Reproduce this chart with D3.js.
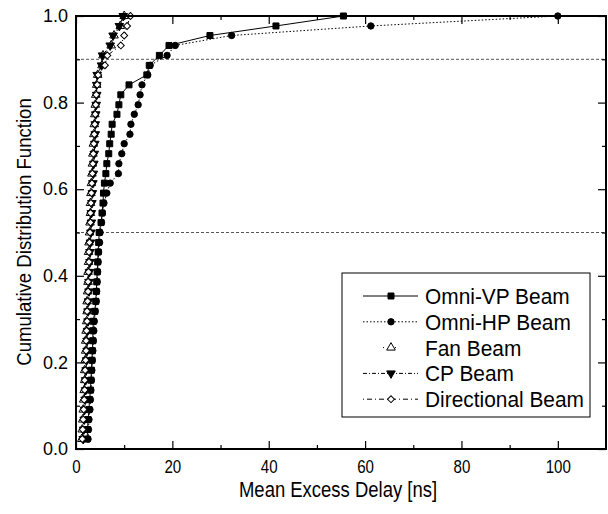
<!DOCTYPE html>
<html>
<head>
<meta charset="utf-8">
<script src="https://cdn.jsdelivr.net/npm/d3@7"></script>
<style>
body { margin: 0; background: #fff; }
svg text { font-family: "Liberation Sans", Arial, sans-serif; fill: #000; }
</style>
</head>
<body>
<svg id="chart" width="608" height="514"></svg>
<script>
// cumulative levels shared by every beam
var cdfLevels = [0.023, 0.045, 0.068, 0.091, 0.114, 0.136, 0.159, 0.182, 0.205, 0.227,
                 0.250, 0.273, 0.295, 0.318, 0.341, 0.364, 0.386, 0.409, 0.432, 0.455,
                 0.477, 0.500, 0.523, 0.545, 0.568, 0.591, 0.614, 0.636, 0.659, 0.682,
                 0.705, 0.727, 0.750, 0.773, 0.795, 0.818, 0.841, 0.864, 0.886, 0.909,
                 0.932, 0.955, 0.977, 1.000];

// mean excess delay [ns] per beam
var omniVP = [2.3, 2.4, 2.5, 2.7, 2.8, 3.0, 3.1, 3.2, 3.3, 3.4,
              3.5, 3.5, 3.6, 3.9, 4.1, 4.2, 4.3, 4.4, 4.5, 4.6,
              4.7, 4.8, 5.2, 5.4, 5.6, 5.7, 5.9, 6.2, 6.4, 6.8,
              7.0, 7.3, 7.5, 8.5, 8.9, 9.3, 11.0, 14.7, 15.2, 17.3,
              19.3, 27.8, 41.5, 55.5];
var omniHP = [2.5, 2.6, 2.7, 2.9, 3.0, 3.1, 3.2, 3.3, 3.4, 3.5,
              3.6, 3.7, 3.8, 4.0, 4.2, 4.3, 4.4, 4.5, 4.6, 4.7,
              4.9, 5.0, 5.3, 5.5, 5.8, 6.4, 7.1, 8.8, 8.9, 9.5,
              10.0, 11.2, 11.4, 12.1, 12.9, 13.3, 13.7, 14.9, 15.4, 18.9,
              20.6, 32.3, 61.2, 100.0];
var fanBeam = [1.2, 1.3, 1.4, 1.5, 1.6, 1.7, 1.8, 1.8, 1.9, 2.0,
               2.0, 2.1, 2.2, 2.3, 2.3, 2.4, 2.5, 2.5, 2.6, 2.6,
               2.7, 2.8, 2.9, 3.0, 3.0, 3.1, 3.2, 3.3, 3.4, 3.5,
               3.6, 3.7, 3.8, 3.9, 4.0, 4.1, 4.3, 4.5, 5.4, 5.6,
               7.3, 7.9, 9.2, 10.0];
var cpBeam = [1.5, 1.6, 1.7, 1.8, 1.9, 2.0, 2.0, 2.1, 2.2, 2.3,
              2.3, 2.4, 2.5, 2.5, 2.6, 2.7, 2.7, 2.8, 2.9, 2.9,
              3.0, 3.1, 3.2, 3.2, 3.3, 3.4, 3.5, 3.6, 3.7, 3.8,
              3.9, 4.0, 4.0, 4.1, 4.2, 4.3, 4.3, 4.4, 5.3, 5.5,
              7.1, 7.7, 9.0, 9.8];
var directional = [1.3, 1.4, 1.5, 1.6, 1.7, 1.8, 1.8, 1.9, 2.0, 2.1,
                   2.1, 2.2, 2.3, 2.3, 2.4, 2.5, 2.5, 2.6, 2.7, 2.7,
                   2.8, 2.9, 3.0, 3.0, 3.1, 3.2, 3.3, 3.4, 3.5, 3.6,
                   3.7, 3.8, 3.9, 4.0, 4.1, 4.2, 4.4, 4.6, 6.0, 6.5,
                   9.3, 10.0, 10.6, 11.3];

var seriesNames = ["Omni-VP Beam", "Omni-HP Beam", "Fan Beam", "CP Beam", "Directional Beam"];
var xTicks = [0, 20, 40, 60, 80, 100];
var xMinorTicks = [10, 30, 50, 70, 90];
var yTicks = [0.0, 0.2, 0.4, 0.6, 0.8, 1.0];
var yMinorTicks = [0.1, 0.3, 0.5, 0.7, 0.9];
var refLevels = [0.5, 0.9];

var plotLeft = 76, plotRight = 606, plotTop = 16, plotBottom = 449;

var x = d3.scaleLinear().domain([0, 110]).range([plotLeft, plotRight]);
var y = d3.scaleLinear().domain([0, 1]).range([plotBottom, plotTop]);

var svg = d3.select("#chart");

var styles = [
    {data: omniVP, dash: null, marker: "square", fill: "#000"},
    {data: omniHP, dash: "1.5,2", marker: "circle", fill: "#000"},
    {data: fanBeam, dash: "1,5", marker: "triUp", fill: "#fff"},
    {data: cpBeam, dash: "4,2,1,2", marker: "triDown", fill: "#000"},
    {data: directional, dash: "1,3,5,3", marker: "diamond", fill: "#fff"}
];

function markerPath(kind) {
    if (kind == "square") return d3.symbol().type(d3.symbolSquare).size(36)();
    if (kind == "circle") return d3.symbol().type(d3.symbolCircle).size(32)();
    if (kind == "diamond") return d3.symbol().type(d3.symbolSquare).size(24)();
    return d3.symbol().type(d3.symbolTriangle).size(32)();
}

function markerTransform(kind, px, py) {
    var t = "translate(" + px + "," + py + ")";
    if (kind == "diamond") t += " rotate(45)";
    if (kind == "triDown") t += " rotate(180)";
    return t;
}

// reference levels
svg.selectAll(".ref")
    .data(refLevels)
    .enter().append("line")
    .attr("class", "ref")
    .attr("x1", plotLeft).attr("x2", plotRight)
    .attr("y1", d => y(d)).attr("y2", d => y(d))
    .attr("stroke", "#555")
    .attr("stroke-width", 1)
    .attr("stroke-dasharray", "3,2");

var line = d3.line()
    .x(d => x(d[0]))
    .y(d => y(d[1]));

styles.forEach(function (s) {
    var pts = s.data.map((v, i) => [v, cdfLevels[i]]);
    svg.append("path")
        .attr("d", line(pts))
        .attr("fill", "none")
        .attr("stroke", "#000")
        .attr("stroke-width", 1)
        .attr("stroke-dasharray", s.dash);
    svg.append("g").selectAll("path")
        .data(pts)
        .enter().append("path")
        .attr("d", markerPath(s.marker))
        .attr("transform", d => markerTransform(s.marker, x(d[0]), y(d[1])))
        .attr("fill", s.fill)
        .attr("stroke", "#000")
        .attr("stroke-width", 1);
});

// axes, ticks pointing inward on all four sides
function styleAxis(g) {
    g.select(".domain").remove();
    g.selectAll("line").attr("stroke", "#000").attr("stroke-width", 1.2);
    g.attr("font-family", null).attr("font-size", null);
}

svg.append("g")
    .attr("transform", "translate(0," + plotBottom + ")")
    .call(d3.axisBottom(x).tickValues(xTicks).tickSizeInner(-8).tickSizeOuter(0).tickPadding(11))
    .call(styleAxis)
    .selectAll("text")
    .style("font-size", "18px")
    .attr("transform", "scale(0.84,1)");

svg.append("g")
    .attr("transform", "translate(0," + plotBottom + ")")
    .call(d3.axisBottom(x).tickValues(xMinorTicks).tickSizeInner(-4).tickSizeOuter(0).tickFormat(""))
    .call(styleAxis);

svg.append("g")
    .attr("transform", "translate(0," + plotTop + ")")
    .call(d3.axisTop(x).tickValues(xTicks).tickSizeInner(-8).tickSizeOuter(0).tickFormat(""))
    .call(styleAxis);

svg.append("g")
    .attr("transform", "translate(0," + plotTop + ")")
    .call(d3.axisTop(x).tickValues(xMinorTicks).tickSizeInner(-4).tickSizeOuter(0).tickFormat(""))
    .call(styleAxis);

svg.append("g")
    .attr("transform", "translate(" + plotLeft + ",0)")
    .call(d3.axisLeft(y).tickValues(yTicks).tickSizeInner(-8).tickSizeOuter(0).tickPadding(8).tickFormat(d3.format(".1f")))
    .call(styleAxis)
    .selectAll("text")
    .style("font-size", "18px");

svg.append("g")
    .attr("transform", "translate(" + plotLeft + ",0)")
    .call(d3.axisLeft(y).tickValues(yMinorTicks).tickSizeInner(-4).tickSizeOuter(0).tickFormat(""))
    .call(styleAxis);

svg.append("g")
    .attr("transform", "translate(" + plotRight + ",0)")
    .call(d3.axisRight(y).tickValues(yTicks).tickSizeInner(-8).tickSizeOuter(0).tickFormat(""))
    .call(styleAxis);

svg.append("g")
    .attr("transform", "translate(" + plotRight + ",0)")
    .call(d3.axisRight(y).tickValues(yMinorTicks).tickSizeInner(-4).tickSizeOuter(0).tickFormat(""))
    .call(styleAxis);

// frame
svg.append("rect")
    .attr("x", plotLeft).attr("y", plotTop)
    .attr("width", plotRight - plotLeft).attr("height", plotBottom - plotTop)
    .attr("fill", "none")
    .attr("stroke", "#000")
    .attr("stroke-width", 2);

// titles
svg.append("text")
    .attr("transform", "translate(338,497) scale(0.84,1)")
    .attr("text-anchor", "middle")
    .style("font-size", "22px")
    .text("Mean Excess Delay [ns]");

svg.append("text")
    .attr("transform", "translate(31,232) rotate(-90) scale(0.93,1)")
    .attr("text-anchor", "middle")
    .style("font-size", "20px")
    .text("Cumulative Distribution Function");

// legend
var legend = svg.append("g");

legend.append("rect")
    .attr("x", 342).attr("y", 273)
    .attr("width", 248).attr("height", 144)
    .attr("fill", "#fff")
    .attr("stroke", "#000")
    .attr("stroke-width", 1);

styles.forEach(function (s, i) {
    var ly = 296 + i * 25.8;
    legend.append("line")
        .attr("x1", s.marker == "triUp" ? 383 : 363).attr("x2", s.marker == "triUp" ? 401 : 418)
        .attr("y1", ly).attr("y2", ly)
        .attr("stroke", "#000")
        .attr("stroke-width", 1)
        .attr("stroke-dasharray", s.dash);
    legend.append("path")
        .attr("d", markerPath(s.marker))
        .attr("transform", markerTransform(s.marker, 391, ly))
        .attr("fill", s.fill)
        .attr("stroke", "#000")
        .attr("stroke-width", 1);
    legend.append("text")
        .attr("transform", "translate(425," + (ly + 8) + ") scale(0.95,1)")
        .style("font-size", "22px")
        .text(seriesNames[i]);
});
</script>
</body>
</html>
